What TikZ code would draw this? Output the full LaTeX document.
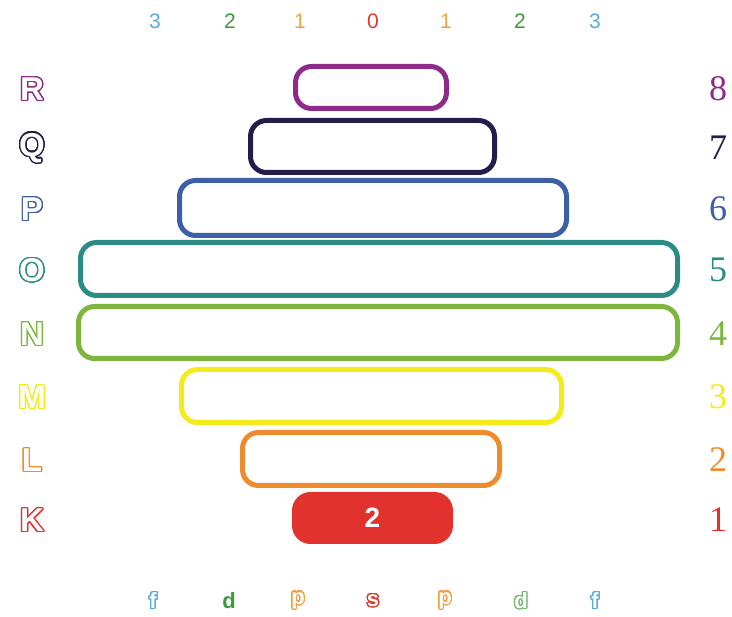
\documentclass[tikz,border=0pt]{standalone}
\usepackage{fontspec}
\setmainfont{Liberation Serif}
\setsansfont{Liberation Sans}
\usepackage{contour}
\contourlength{1.2pt}
\contournumber{32}

\definecolor{cR}{HTML}{8E2A88}
\definecolor{cQ}{HTML}{261C4C}
\definecolor{cP}{HTML}{3C5FA6}
\definecolor{cO}{HTML}{2A8C84}
\definecolor{cN}{HTML}{7CB63C}
\definecolor{cM}{HTML}{F4EA1C}
\definecolor{cL}{HTML}{EE8C2C}
\definecolor{cK}{HTML}{E2322E}
\definecolor{lblue}{HTML}{5AAAD8}
\definecolor{lgreen}{HTML}{3C9A3C}
\definecolor{lorange}{HTML}{F0A042}
\definecolor{lred}{HTML}{E03A2C}

\begin{document}
\begin{tikzpicture}[x=1pt, y=-1pt,
    shell/.style={draw, line width=5pt, rounded corners=16pt, inner sep=0pt},
    shellname/.style={font=\sffamily\bfseries\fontsize{33}{33}\selectfont},
    shellnum/.style={font=\fontsize{36}{36}\selectfont},
    lnum/.style={font=\sffamily\fontsize{21}{21}\selectfont},
    lname/.style={font=\sffamily\bfseries\fontsize{22}{22}\selectfont}]
\useasboundingbox (0,0) rectangle (732,617);

% 壳层
\foreach \nm/\cx/\cy/\w/\h/\n in {R/371/87.5/151/42/8, Q/372.5/146.5/244/52/7,
    P/373/208/387/55/6, O/379/269/597/53/5, N/378/332.5/599/52/4,
    M/371.5/396/380/53/3, L/371/459/257/53/2}{
  \node[shell, draw=c\nm, minimum width=\w pt, minimum height=\h pt] (\nm) at (\cx,\cy) {};
  \node[shellname] (l\nm) at (32,\cy+2) {\contour{c\nm}{\textcolor{white}{\nm}}};
  \node[shellnum, text=c\nm] (n\nm) at (718,\cy+1) {\n};
}
\node[shell, draw=cK, fill=cK, minimum width=156pt, minimum height=47pt,
      text=white, font=\sffamily\bfseries\fontsize{28}{28}\selectfont] (K) at (372.5,518) {2};
\node[shellname] (lK) at (32,521) {\contour{cK}{\textcolor{white}{K}}};
\node[shellnum, text=cK] (nK) at (718,520) {1};

% 角量子数
\foreach \x/\v/\col in {155/3/lblue, 230/2/lgreen, 300/1/lorange, 373/0/lred,
    446/1/lorange, 520/2/lgreen, 595/3/lblue}
  \node[lnum, text=\col] (t\x) at (\x,21) {\v};

% 亚层
\foreach \x/\v/\col in {153/f/lblue, 298/p/lorange, 373/s/lred,
    445/p/lorange, 521/d/lgreen!70, 595/f/lblue}
  \node[lname] (b\x) at (\x,601) {\contour{\col}{\textcolor{white}{\v}}};
\node[lname, text=lgreen] (b229) at (229,601) {d};
\end{tikzpicture}
\end{document}
